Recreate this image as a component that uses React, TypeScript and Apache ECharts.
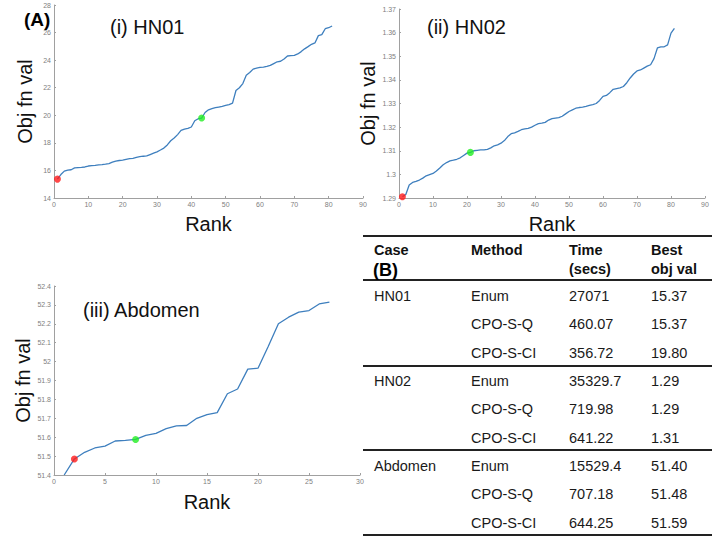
import React, { useEffect, useRef } from 'react';
import * as echarts from 'echarts';

const FONT = 'Liberation Sans, Arial, Helvetica, sans-serif';

const hn01Values = [
  15.37, 15.7, 15.95, 16.02, 16.05, 16.18, 16.2, 16.22, 16.25, 16.32,
  16.35, 16.37, 16.4, 16.42, 16.45, 16.5, 16.6, 16.68, 16.72, 16.75,
  16.8, 16.85, 16.88, 16.95, 17.0, 17.03, 17.05, 17.15, 17.25, 17.35,
  17.48, 17.62, 17.85, 18.15, 18.35, 18.6, 18.9, 19.0, 19.05, 19.15,
  19.6, 19.75, 19.8, 20.2, 20.4, 20.48, 20.55, 20.6, 20.65, 20.72,
  20.78, 20.88, 21.8, 22.0, 22.3, 22.9, 23.1, 23.35, 23.42, 23.47,
  23.5, 23.55, 23.62, 23.75, 23.88, 23.92, 24.08, 24.3, 24.33, 24.35,
  24.45, 24.62, 24.82, 24.98, 25.15, 25.25, 25.78, 25.85, 26.28, 26.35,
  26.48,
];
const hn02Values = [
  1.2905, 1.2915, 1.2955, 1.2966, 1.297, 1.2976, 1.2984, 1.2994, 1.2999, 1.3004,
  1.3014, 1.3027, 1.3041, 1.305, 1.3057, 1.306, 1.3064, 1.307, 1.308, 1.309,
  1.3093, 1.31, 1.3102, 1.3104, 1.3104, 1.3106, 1.3112, 1.3121, 1.3125, 1.3132,
  1.3143, 1.316, 1.3172, 1.3176, 1.3182, 1.3189, 1.3193, 1.3195, 1.32, 1.3208,
  1.3215, 1.3217, 1.322, 1.323, 1.3236, 1.3238, 1.324, 1.3246, 1.3256, 1.3266,
  1.3273, 1.328, 1.3283, 1.3285, 1.3288, 1.3292, 1.3295, 1.33, 1.3313, 1.333,
  1.3334, 1.3346, 1.336, 1.3363, 1.3366, 1.3372, 1.3388, 1.3408, 1.3425, 1.3438,
  1.3442, 1.345, 1.3458, 1.3464, 1.349, 1.3535, 1.354, 1.354, 1.3548, 1.3598,
  1.3618,
];
const abdomenValues = [
  51.4, 51.485, 51.52, 51.543, 51.553, 51.58, 51.583, 51.588, 51.61, 51.62,
  51.645, 51.66, 51.662, 51.7, 51.72, 51.73, 51.83, 51.855, 51.96, 51.965,
  52.08, 52.2, 52.235, 52.262, 52.27, 52.305, 52.315,
];

// rank of the red (best, Enum/CPO-S-Q) and green (CPO-S-CI) points
const hn01Marks = [1, 43];
const hn02Marks = [1, 21];
const abdomenMarks = [2, 8];

const panelTitles = ['(i) HN01', '(ii) HN02', '(iii) Abdomen'];

const tableHead1 = ['Case', 'Method', 'Time', 'Best'];
const tableHead2 = ['', '', '(secs)', 'obj val'];
const tableCases = ['HN01', 'HN02', 'Abdomen'];
const tableMethods = ['Enum', 'CPO-S-Q', 'CPO-S-CI'];
const tableTimes = [
  ['27071', '460.07', '356.72'],
  ['35329.7', '719.98', '641.22'],
  ['15529.4', '707.18', '644.25'],
];
const tableBest = [
  ['15.37', '15.37', '19.80'],
  ['1.29', '1.29', '1.31'],
  ['51.40', '51.48', '51.59'],
];

const LINE_COLOR = '#3e7fbe';

function toPoints(vals: number[]) {
  return vals.map((v, i) => [i + 1, v]);
}

export default function App() {
  const ref = useRef<HTMLDivElement>(null);

  useEffect(() => {
    if (!ref.current) return;
    const chart = echarts.init(ref.current, undefined, { renderer: 'svg' });

    const axisCommon = {
      splitLine: { show: false },
      axisLine: { show: true, lineStyle: { color: '#a0a0a0', width: 1 } },
      axisTick: { show: true, inside: true, length: 2, lineStyle: { color: '#a0a0a0' } },
      axisLabel: { color: '#808080', fontSize: 7, fontFamily: FONT, margin: 3 },
      nameTextStyle: { color: '#111', fontSize: 20, fontFamily: FONT },
      nameLocation: 'middle' as const,
    };

    const xAxis = [
      { ...axisCommon, type: 'value', gridIndex: 0, min: 0, max: 90, interval: 10, name: 'Rank', nameGap: 16 },
      { ...axisCommon, type: 'value', gridIndex: 1, min: 0, max: 90, interval: 10, name: 'Rank', nameGap: 16 },
      { ...axisCommon, type: 'value', gridIndex: 2, min: 0, max: 30, interval: 5, name: 'Rank', nameGap: 17 },
    ];
    const yAxis = [
      { ...axisCommon, type: 'value', gridIndex: 0, min: 14, max: 28, interval: 2, name: 'Obj fn val', nameRotate: 90, nameGap: 19 },
      {
        ...axisCommon, type: 'value', gridIndex: 1, min: 1.29, max: 1.37, interval: 0.01, name: 'Obj fn val', nameRotate: 90, nameGap: 19,
        axisLabel: { ...axisCommon.axisLabel, formatter: (v: number) => String(parseFloat(v.toFixed(2))) },
      },
      {
        ...axisCommon, type: 'value', gridIndex: 2, min: 51.4, max: 52.4, interval: 0.1, name: 'Obj fn val', nameRotate: 90, nameGap: 19,
        axisLabel: { ...axisCommon.axisLabel, formatter: (v: number) => String(parseFloat(v.toFixed(1))) },
      },
    ];

    const panels = [
      { vals: hn01Values, marks: hn01Marks },
      { vals: hn02Values, marks: hn02Marks },
      { vals: abdomenValues, marks: abdomenMarks },
    ];
    const series: any[] = [];
    panels.forEach((p, i) => {
      series.push({
        type: 'line', xAxisIndex: i, yAxisIndex: i, data: toPoints(p.vals),
        showSymbol: false, symbol: 'none', lineStyle: { color: LINE_COLOR, width: 1.3 }, z: 2,
      });
      series.push({
        type: 'scatter', xAxisIndex: i, yAxisIndex: i, symbolSize: 7, z: 3,
        data: [
          { value: [p.marks[0], p.vals[p.marks[0] - 1]], itemStyle: { color: '#ff1a1a' } },
          { value: [p.marks[1], p.vals[p.marks[1] - 1]], itemStyle: { color: '#22ee22' } },
        ],
      });
    });

    const graphic: any[] = [];
    graphic.push({ type: 'text', x: 24, y: 19, style: { text: '(A)', font: `bold 19px ${FONT}`, fill: '#000', verticalAlign: 'middle' } });
    const titlePos = [[110, 27], [427, 27], [83, 310]];
    panelTitles.forEach((t, i) => {
      graphic.push({ type: 'text', x: titlePos[i][0], y: titlePos[i][1], style: { text: t, font: `20px ${FONT}`, fill: '#111', verticalAlign: 'middle' } });
    });

    // Table
    const colX = [374, 471, 569, 651];
    const lineX1 = 363, lineX2 = 712;
    [236, 280, 366, 450, 535].forEach((y, i) => {
      graphic.push({ type: 'line', shape: { x1: lineX1, y1: y, x2: lineX2, y2: y }, style: { stroke: '#222', lineWidth: i === 0 ? 2 : 1.8 } });
    });
    tableHead1.forEach((t, c) => {
      graphic.push({ type: 'text', x: colX[c], y: 250, style: { text: t, font: `bold 14.5px ${FONT}`, fill: '#111', verticalAlign: 'middle' } });
    });
    tableHead2.forEach((t, c) => {
      if (!t) return;
      graphic.push({ type: 'text', x: colX[c], y: 269, style: { text: t, font: `bold 14.5px ${FONT}`, fill: '#111', verticalAlign: 'middle' } });
    });
    graphic.push({ type: 'text', x: 373, y: 270, style: { text: '(B)', font: `bold 18px ${FONT}`, fill: '#000', verticalAlign: 'middle' } });
    const rowY0 = 296, rowStep = 28.3, groupGap = 28.4;
    tableCases.forEach((cs, g) => {
      tableMethods.forEach((m, r) => {
        const y = rowY0 + (g * 3 + r) * rowStep + g * (groupGap - rowStep);
        const cells = [r === 0 ? cs : '', m, tableTimes[g][r], tableBest[g][r]];
        cells.forEach((t, c) => {
          if (!t) return;
          graphic.push({ type: 'text', x: colX[c], y, style: { text: t, font: `14.5px ${FONT}`, fill: '#1a1a1a', verticalAlign: 'middle' } });
        });
      });
    });

    chart.setOption({
      animation: false,
      backgroundColor: '#fff',
      grid: [
        { left: 54, top: 5, width: 309, height: 193 },
        { left: 399, top: 9, width: 306, height: 189 },
        { left: 54, top: 286, width: 306, height: 189 },
      ],
      xAxis,
      yAxis,
      series,
      graphic,
    });

    return () => chart.dispose();
  }, []);

  return <div ref={ref} style={{ position: 'absolute', left: 0, top: 0, width: 720, height: 539 }} />;
}
